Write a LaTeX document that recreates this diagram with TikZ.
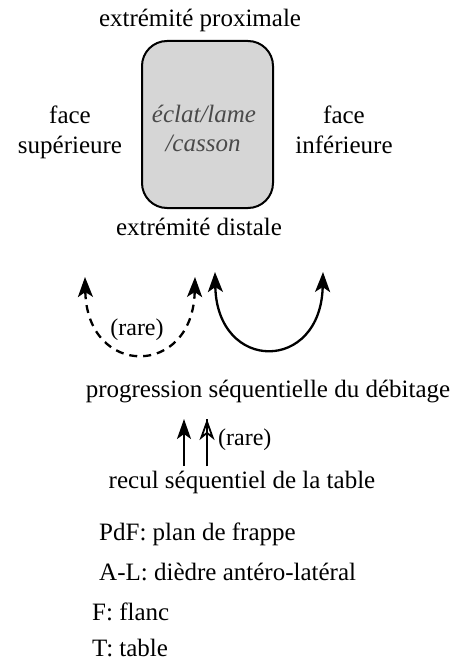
\documentclass[tikz,border=0pt]{standalone}
\usepackage{fontspec}
\setmainfont{Liberation Serif}
\usetikzlibrary{arrows.meta}
\definecolor{boxfill}{HTML}{D6D6D6}
\definecolor{boxtext}{HTML}{4A4A4A}
\tikzset{
  lbl/.style={anchor=base, inner sep=0pt, font=\fontsize{25}{30}\selectfont},
  lbll/.style={lbl, anchor=base west},
  rarelbl/.style={anchor=base, inner sep=0pt, font=\fontsize{24}{28}\selectfont},
  arc/.style={line width=2.3pt, {Stealth[length=20pt,width=15pt,inset=5pt]}-{Stealth[length=20pt,width=15pt,inset=5pt]}},
  uparr/.style={line width=1.8pt, -{Stealth[length=20pt,width=14pt,inset=5pt]}},
}
\begin{document}
\begin{tikzpicture}[x=1pt,y=-1pt]
\useasboundingbox (0,0) rectangle (465,666);
% top label
\node[lbl] (prox) at (200,27) {extrémité proximale};
% box
\draw[line width=2pt, fill=boxfill, rounded corners=25pt] (142,41) rectangle (273,208);
\node[lbl, font=\fontsize{25}{30}\selectfont\itshape, text=boxtext] (b1) at (204,122) {éclat/lame};
\node[lbl, font=\fontsize{25}{30}\selectfont\itshape, text=boxtext] (b2) at (203,151) {/casson};
% side labels
\node[lbl] (fs1) at (70,124) {face};
\node[lbl] (fs2) at (70,153) {supérieure};
\node[lbl] (fi1) at (344,124) {face};
\node[lbl] (fi2) at (344,153) {inférieure};
\node[lbl] (dist) at (199,235) {extrémité distale};
% arcs
\coordinate (dl) at (85,277);
\coordinate (dr) at (195,277);
\draw[arc, dash pattern=on 8pt off 6pt] (dl) .. controls (87,378) and (193,378) .. (dr);
\node[rarelbl] (rare1) at (137,335) {(rare)};
\coordinate (sl) at (215,272);
\coordinate (sr) at (323,272);
\draw[arc] (sl) .. controls (217,373) and (321,373) .. (sr);
% progression
\node[lbl] (prog) at (268,397) {progression séquentielle du débitage};
% up arrows
\coordinate (a1b) at (184,466);
\coordinate (a1t) at (184,419);
\coordinate (a2b) at (207,466);
\coordinate (a2t) at (207,419);
\draw[uparr] (a1b) -- (a1t);
\draw[line width=1.8pt, -{Stealth[open,length=21pt,width=15pt,inset=6pt]}] (a2b) -- (a2t);
\draw[line width=1.8pt] (a2b) -- (a2t);
\node[rarelbl, anchor=base west] (rare2) at (218,445) {(rare)};
% recul
\node[lbl] (recul) at (242,488) {recul séquentiel de la table};
% legend
\node[lbll] (pdf) at (99,540) {PdF: plan de frappe};
\node[lbll] (al) at (99,580) {A-L: dièdre antéro-latéral};
\node[lbll] (fl) at (92,620) {F: flanc};
\node[lbll] (tt) at (92,656) {T: table};
\end{tikzpicture}
\end{document}
